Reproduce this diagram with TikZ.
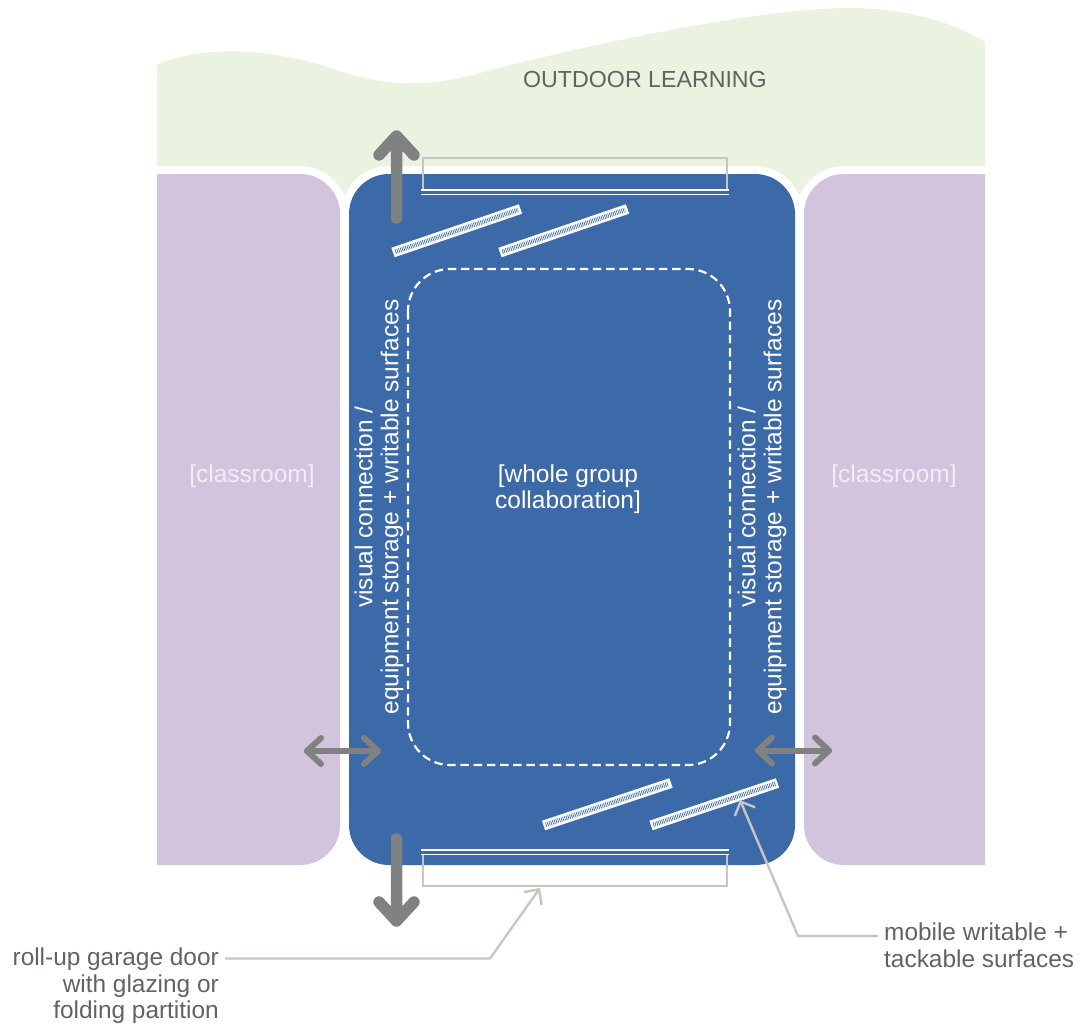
\documentclass[tikz,border=0pt]{standalone}
\usepackage{fontspec}
\setmainfont{Liberation Sans}
\usetikzlibrary{arrows.meta}
\definecolor{outdoorgreen}{HTML}{EAF3E0}
\definecolor{classpurple}{HTML}{D3C4DE}
\definecolor{hallblue}{HTML}{3C69A8}
\definecolor{arrowgray}{HTML}{808282}
\definecolor{leadergray}{HTML}{C9C6C1}
\definecolor{labelgray}{HTML}{5F6460}
\begin{document}
\begin{tikzpicture}[x=1pt,y=-1pt,
  halo/.style={preaction={draw=white,line width=16pt}},
  bigmove/.style={draw=arrowgray,line width=11.5pt,line cap=round,line join=round},
  smallmove/.style={draw=arrowgray,line width=6pt,line cap=round,line join=round},
  door/.style={draw=leadergray,line width=2.5pt},
  track/.style={draw=white,line width=1.8pt},
  surface/.style={draw=white,line width=10pt,postaction={draw=hallblue,line width=4.5pt,shorten <=2.5pt,shorten >=2.5pt,dash pattern=on 0.7pt off 1.1pt}},
  leader/.style={draw=leadergray,line width=2.4pt,-{Straight Barb[length=11pt,width=22pt]}},
  note/.style={font=\fontsize{24.4}{26.8}\selectfont,text=labelgray,inner sep=0pt},
  onblue/.style={font=\fontsize{24.5}{26}\selectfont,text=white,inner sep=0pt,align=center},
  ]
\useasboundingbox (0,0) rectangle (1080,1025);
\fill[outdoorgreen] (157,65) .. controls (200,45) and (270,48) .. (330,68)
  .. controls (375,84) and (420,90) .. (480,73)
  .. controls (590,44) and (760,8) .. (850,8)
  .. controls (900,8) and (950,20) .. (985,42) -- (985,210) -- (157,210) -- cycle;
\fill[white] (157,205) rectangle (985,230);
\draw[halo,fill=classpurple,draw=none] (157,865) -- (157,174) [rounded corners=40pt] -- (340,174) -- (340,865) [sharp corners] -- (157,865) -- cycle;
\draw[halo,fill=classpurple,draw=none] (985,865) -- (985,174) [rounded corners=40pt] -- (804,174) -- (804,865) [sharp corners] -- (985,865) -- cycle;
\draw[halo,fill=hallblue,draw=none,rounded corners=40pt] (349,174) rectangle (795,865);
\node[note,font=\fontsize{23.2}{26}\selectfont] (outdoor) at (645,79.5) {OUTDOOR LEARNING};
\node[onblue,text=white!70!classpurple] (classleft) at (252,476.5) {[classroom]};
\node[onblue,text=white!70!classpurple] (classright) at (894,476.5) {[classroom]};
\node[onblue] (whole) at (568,489.5) {[whole group\\collaboration]};
\node[onblue,rotate=90] (visualleft) at (379,507) {visual connection /\\equipment storage + writable surfaces};
\node[onblue,rotate=90] (visualright) at (762,507) {visual connection /\\equipment storage + writable surfaces};
\draw[white,line width=2.2pt,dash pattern=on 8.5pt off 4.7pt,rounded corners=42pt] (408,269) rectangle (730,765);
% doors
\draw[door] (423,190) -- (423,158) -- (727,158) -- (727,190);
\draw[door] (423,855) -- (423,886) -- (727,886) -- (727,855);
\draw[track] (421,190) -- (729,190);
\draw[track] (421,194.5) -- (729,194.5);
\draw[track] (421,850) -- (729,850);
\draw[track] (421,854.5) -- (729,854.5);
% surfaces
\coordinate (topa) at (393,252.5);
\coordinate (topb) at (520.5,209);
\coordinate (topc) at (500,252.5);
\coordinate (topd) at (627.5,209);
\coordinate (lowa) at (543.5,825.5);
\coordinate (lowb) at (671,783);
\coordinate (lowc) at (651,825.5);
\coordinate (lowd) at (777.5,783);
\draw[surface] (topa) -- (topb);
\draw[surface] (topc) -- (topd);
\draw[surface] (lowa) -- (lowb);
\draw[surface] (lowc) -- (lowd);
% moves
\coordinate (upstart) at (396.5,218);
\coordinate (uptip) at (396.5,136);
\coordinate (downstart) at (396.5,839);
\coordinate (downtip) at (396.5,921);
\draw[bigmove] (upstart) -- (uptip) ++(-17.5,19) -- (uptip) -- ++(17.5,19);
\draw[bigmove] (downstart) -- (downtip) ++(-17.5,-19) -- (downtip) -- ++(17.5,-19);
\coordinate (leftend) at (307,751);
\coordinate (leftother) at (378,751);
\coordinate (rightend) at (758,750.5);
\coordinate (rightother) at (829,750.5);
\draw[smallmove] (leftend) -- (leftother);
\draw[smallmove] (leftend) ++(14,-13) -- (leftend) -- ++(14,13);
\draw[smallmove] (leftother) ++(-14,-13) -- (leftother) -- ++(-14,13);
\draw[smallmove] (rightend) -- (rightother);
\draw[smallmove] (rightend) ++(14,-13) -- (rightend) -- ++(14,13);
\draw[smallmove] (rightother) ++(-14,-13) -- (rightother) -- ++(-14,13);
% labels
\node[note,align=right,anchor=north east] (garage) at (219,947.5) {roll-up garage door\\with glazing or\\folding partition};
\node[note,align=left,anchor=north west] (mobile) at (884,923) {mobile writable +\\tackable surfaces};
\coordinate (doortip) at (540,888);
\coordinate (surfacetip) at (740,800);
\draw[leader] (225,958.5) -- (490,958.5) -- (doortip);
\draw[leader] (878,936) -- (798,936) -- (surfacetip);
\end{tikzpicture}
\end{document}
